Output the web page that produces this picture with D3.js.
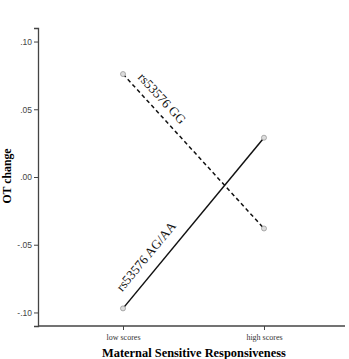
<!DOCTYPE html>
<html>
<head>
<meta charset="utf-8">
<script src="https://cdn.jsdelivr.net/npm/d3@7/dist/d3.min.js"></script>
<style>
body{margin:0;background:#fff;}
svg{display:block;}
</style>
</head>
<body>
<svg id="chart" width="349" height="359"></svg>
<script>
const categories = ["low scores", "high scores"];
const seriesNames = ["rs53576 GG", "rs53576 AG/AA"];
const ggValues = [0.076, -0.038];
const agaaValues = [-0.097, 0.029];
const yTicks = [-0.10, -0.05, 0.00, 0.05, 0.10];
const yTickLabels = ["-.10", "-.05", ".00", ".05", ".10"];

const svg = d3.select("#chart");
const x = d3.scalePoint().domain(categories).range([38, 349]).padding(0.603);
const y = d3.scaleLinear().domain([-0.11, 0.11]).range([326, 28]);

// Y axis
const yAxis = d3.axisLeft(y).tickValues(yTicks).tickSize(4).tickPadding(2)
  .tickFormat((d, i) => yTickLabels[i]);
const gy = svg.append("g").attr("transform", "translate(38,0)").call(yAxis);
gy.select(".domain").attr("stroke", "#444").attr("stroke-width", 1.3);
gy.selectAll(".tick line").attr("stroke", "#444");
gy.selectAll(".tick text").attr("fill", "#444").style("font-family", "Liberation Sans, Arial, sans-serif").style("font-size", "8.5px");

// X axis
const xAxis = d3.axisBottom(x).tickSize(4).tickSizeOuter(0).tickPadding(4);
const gx = svg.append("g").attr("transform", "translate(0,326)").call(xAxis);
gx.select(".domain").attr("stroke", "#444").attr("stroke-width", 1.3).attr("d", "M38,0H345");
gx.selectAll(".tick line").attr("stroke", "#444");
gx.selectAll(".tick text").attr("fill", "#333").style("font-family", "Liberation Serif, Times New Roman, serif").style("font-size", "8px");

// Axis titles
svg.append("text").attr("x", 194).attr("y", 357).attr("text-anchor", "middle")
  .style("font-family", "Liberation Serif, Times New Roman, serif").style("font-weight", "bold").style("font-size", "12.4px")
  .text("Maternal Sensitive Responsiveness");
svg.append("text").attr("transform", "translate(11,176) rotate(-90)").attr("text-anchor", "middle")
  .style("font-family", "Liberation Serif, Times New Roman, serif").style("font-weight", "bold").style("font-size", "11.8px")
  .text("OT change");

// Lines
const series = [
  {name: seriesNames[0], values: ggValues, dash: "4,3"},
  {name: seriesNames[1], values: agaaValues, dash: null}
];
const line = d3.line().x((d, i) => x(categories[i])).y(d => y(d));
series.forEach(s => {
  svg.append("path").attr("d", line(s.values)).attr("fill", "none")
    .attr("stroke", "#111").attr("stroke-width", 1.5)
    .attr("stroke-dasharray", s.dash);
  s.values.forEach((v, i) => {
    svg.append("circle").attr("cx", x(categories[i])).attr("cy", y(v)).attr("r", 2.5)
      .attr("fill", "#ddd").attr("stroke", "#999").attr("stroke-width", 0.8);
  });
});

// Series labels along lines
function labelFor(s, t, offset) {
  const x0 = x(categories[0]), x1 = x(categories[1]);
  const y0 = y(s.values[0]), y1 = y(s.values[1]);
  const ang = Math.atan2(y1 - y0, x1 - x0) * 180 / Math.PI;
  const px = x0 + (x1 - x0) * t, py = y0 + (y1 - y0) * t;
  svg.append("text")
    .attr("transform", `translate(${px},${py}) rotate(${ang}) translate(0,${offset})`)
    .attr("text-anchor", "start")
    .style("font-family", "Liberation Serif, Times New Roman, serif").style("font-size", "13px")
    .attr("fill", "#111")
    .text(s.name);
}
labelFor(series[0], 0.059, -8);
labelFor(series[1], 0.054, -11);
</script>
</body>
</html>
